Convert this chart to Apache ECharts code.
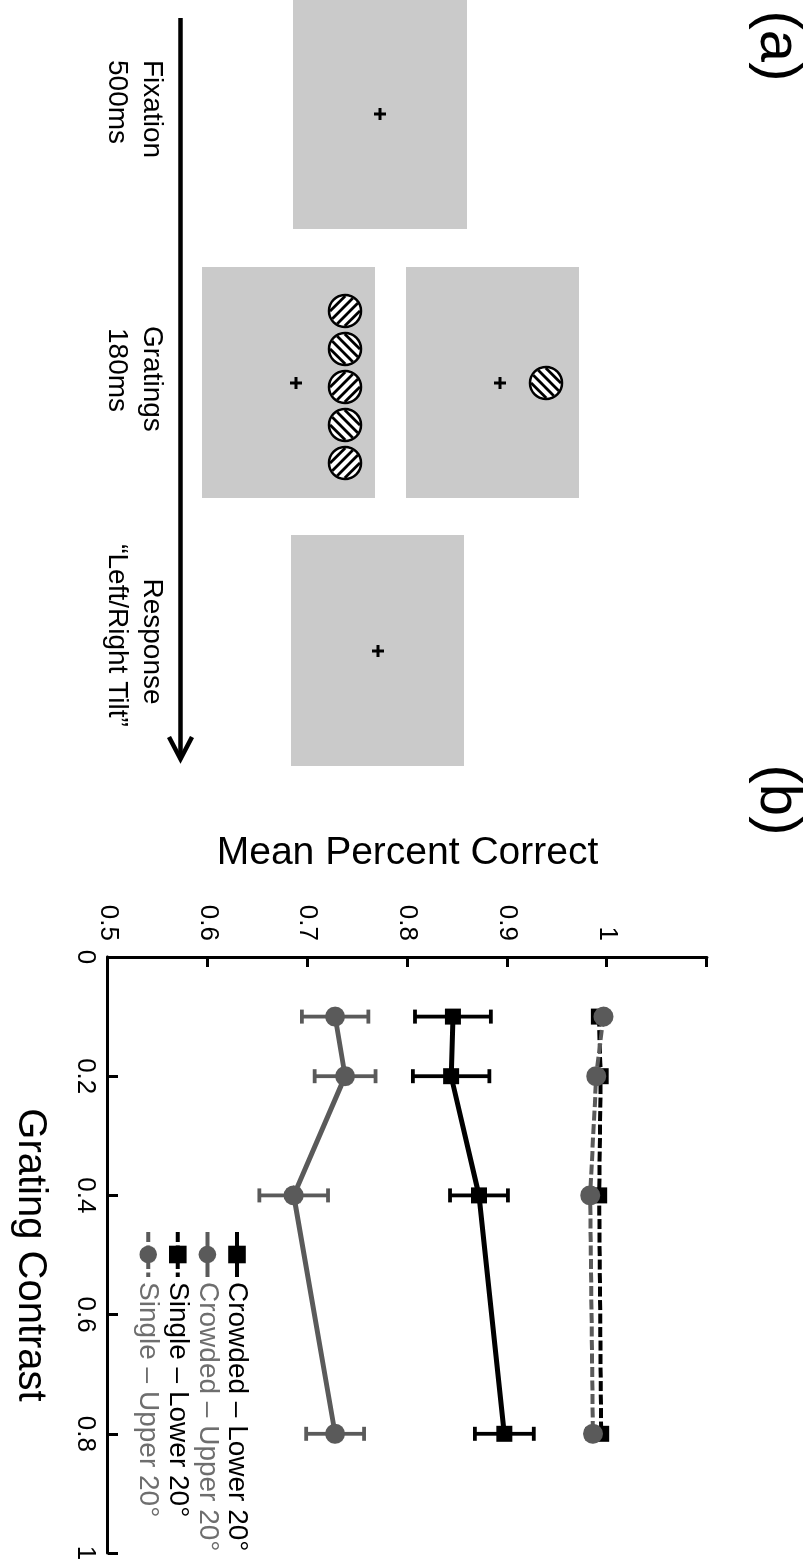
<!DOCTYPE html>
<html>
<head>
<meta charset="utf-8">
<script src="https://cdn.jsdelivr.net/npm/echarts@6/dist/echarts.min.js"></script>
<style>
  html, body { margin: 0; padding: 0; background: #fff; overflow: hidden; }
  #stage { position: absolute; left: 0; top: 0; width: 809px; height: 1564px; overflow: hidden; background: #fff; }
  /* the figure is laid out landscape and turned a quarter clockwise */
  #fig { position: absolute; left: 0; top: 0; width: 1564px; height: 809px;
         transform-origin: 0 0; transform: translate(809px, 0) rotate(90deg); }
</style>
</head>
<body>
<div id="stage"><div id="fig"></div></div>
<script>
// ---- data -------------------------------------------------------------
const contrast = [0.1, 0.2, 0.4, 0.8];

const crowdedLower    = [0.8455, 0.8437, 0.8716, 0.8970];
const crowdedLowerErr = [0.0380, 0.0383, 0.0290, 0.0295];
const crowdedUpper    = [0.7275, 0.7375, 0.6860, 0.7275];
const crowdedUpperErr = [0.0333, 0.0305, 0.0344, 0.0290];
const singleLower     = [0.9917, 0.9935, 0.9920, 0.9940];
const singleUpper     = [0.9963, 0.9890, 0.9830, 0.9857];

const seriesNames = ['Crowded – Lower 20°', 'Crowded – Upper 20°', 'Single – Lower 20°', 'Single – Upper 20°'];
const contrastTickLabels = ['0', '0.2', '0.4', '0.6', '0.8', '1'];
const percentTickLabels  = ['0.5', '0.6', '0.7', '0.8', '0.9', '1', ''];

// ---- styling ----------------------------------------------------------
const FONT = '"Liberation Sans", Arial, Helvetica, sans-serif';
const BLACK = '#000000';
const GREY = '#5a5a5a';
const GREY_TEXT = '#6e6e6e';
const BOX = '#cacaca';

// ---- trial schematic (panel a) ----------------------------------------
function box(x, y, w, h) {
  return { type: 'rect', silent: true, shape: { x, y, width: w, height: h }, style: { fill: BOX } };
}
function cross(cx, cy) {
  const a = 6;
  const st = { stroke: BLACK, lineWidth: 3 };
  return [
    { type: 'line', silent: true, shape: { x1: cx - a, y1: cy, x2: cx + a, y2: cy }, style: st },
    { type: 'line', silent: true, shape: { x1: cx, y1: cy - a, x2: cx, y2: cy + a }, style: st }
  ];
}
// striped disc; dir = 1 for "/" stripes, -1 for "\" stripes
function grating(cx, cy, dir) {
  const r = 16;
  const ux = Math.SQRT1_2, uy = -dir * Math.SQRT1_2;
  const nx = -uy, ny = ux;
  const ri = r - 1;
  const els = [{ type: 'circle', silent: true, shape: { cx, cy, r }, style: { fill: '#fff' } }];
  [-10.5, -3.5, 3.5, 10.5].forEach(d => {
    const h = Math.sqrt(Math.max(ri * ri - d * d, 0));
    els.push({ type: 'line', silent: true,
      shape: { x1: cx + nx * d - ux * h, y1: cy + ny * d - uy * h, x2: cx + nx * d + ux * h, y2: cy + ny * d + uy * h },
      style: { stroke: BLACK, lineWidth: 2.8 } });
  });
  els.push({ type: 'circle', silent: true, shape: { cx, cy, r }, style: { fill: null, stroke: BLACK, lineWidth: 2.5 } });
  return els;
}
function label(text, x, y, size, align) {
  return { type: 'text', silent: true, x, y,
    style: { text, font: size + 'px ' + FONT, fill: BLACK,
             textAlign: align, align: align, textVerticalAlign: 'middle', verticalAlign: 'middle' } };
}

const schematic = [].concat(
  box(0, 342, 229, 174),
  box(267, 434, 231, 173),
  box(267, 230, 231, 173),
  box(535, 345, 231, 173),
  cross(114, 429),
  cross(383, 513),
  cross(383, 309),
  cross(651, 431),
  grating(311, 464, -1), grating(349, 464, 1), grating(387, 464, -1), grating(425, 464, 1), grating(463, 464, -1),
  grating(383, 263, 1),
  [
    { type: 'line', silent: true, shape: { x1: 18, y1: 628.5, x2: 757, y2: 628.5 }, style: { stroke: BLACK, lineWidth: 4.5 } },
    { type: 'polyline', silent: true, shape: { points: [[737, 617], [759, 628.5], [737, 640]] },
      style: { stroke: BLACK, lineWidth: 4.5, fill: null } },
    label('Fixation', 60, 657.5, 28, 'left'),
    label('500ms', 60, 692.5, 28, 'left'),
    label('Gratings', 326, 657.5, 28, 'left'),
    label('180ms', 328, 692.5, 28, 'left'),
    label('Response', 641.5, 657.5, 28, 'center'),
    label('\u201CLeft/Right Tilt\u201D', 635.5, 692.5, 28, 'center'),
    label('(a)', 46, 32, 58, 'center'),
    label('(b)', 800, 32, 58, 'center')
  ]
);

// ---- chart (panel b) ---------------------------------------------------
function errorBars(values, errs, color) {
  return {
    type: 'custom',
    silent: true,
    z: 1,
    encode: { x: 0, y: [1, 2] },
    data: contrast.map((c, i) => [c, values[i] - errs[i], values[i] + errs[i]]),
    renderItem(params, api) {
      const lo = api.coord([api.value(0), api.value(1)]);
      const hi = api.coord([api.value(0), api.value(2)]);
      const cap = 7;
      const st = { stroke: color, lineWidth: 3.8 };
      return { type: 'group', children: [
        { type: 'line', shape: { x1: lo[0], y1: lo[1], x2: hi[0], y2: hi[1] }, style: st },
        { type: 'line', shape: { x1: lo[0] - cap, y1: lo[1], x2: lo[0] + cap, y2: lo[1] }, style: st },
        { type: 'line', shape: { x1: hi[0] - cap, y1: hi[1], x2: hi[0] + cap, y2: hi[1] }, style: st }
      ] };
    }
  };
}
function lineSeries(name, values, color, symbol, dashed) {
  return {
    type: 'line',
    name,
    z: 2,
    data: contrast.map((c, i) => [c, values[i]]),
    symbol,
    symbolSize: symbol === 'rect' ? 16 : 20,
    itemStyle: { color },
    lineStyle: { color, width: dashed ? 4 : 5, type: dashed ? [10, 3.5] : 'solid' },
    emphasis: { disabled: true }
  };
}

const axisCommon = {
  axisLine: { show: true, onZero: false, lineStyle: { color: BLACK, width: 3 } },
  axisTick: { show: true, inside: true, length: 10, lineStyle: { color: BLACK, width: 3 } },
  splitLine: { show: false },
  nameMoveOverlap: false
};

const chart = echarts.init(document.getElementById('fig'), null, { renderer: 'canvas', width: 1564, height: 809 });
chart.setOption({
  animation: false,
  backgroundColor: '#ffffff',
  textStyle: { fontFamily: FONT },
  grid: { left: 957, top: 102, width: 596, height: 599, outerBoundsMode: 'none', containLabel: false },
  xAxis: Object.assign({}, axisCommon, {
    type: 'value', min: 0, max: 1, interval: 0.2,
    axisLabel: { color: BLACK, fontSize: 26, fontFamily: FONT, margin: 10, showMinLabel: true, showMaxLabel: true,
                 formatter: (v, i) => contrastTickLabels[i] ?? '' },
    name: 'Grating Contrast', nameLocation: 'middle', nameGap: 58,
    nameTextStyle: { color: BLACK, fontSize: 40, fontFamily: FONT }
  }),
  yAxis: Object.assign({}, axisCommon, {
    type: 'value', min: 0.5, max: 1.1, interval: 0.1,
    axisLabel: { color: BLACK, fontSize: 26, fontFamily: FONT, margin: 16, showMinLabel: true, showMaxLabel: true,
                 formatter: (v, i) => percentTickLabels[i] ?? '' },
    name: 'Mean Percent Correct', nameLocation: 'middle', nameRotate: 90, nameGap: 84,
    nameTextStyle: { color: BLACK, fontSize: 39, fontFamily: FONT }
  }),
  legend: {
    orient: 'vertical', left: 1230, top: 558, padding: 0,
    itemWidth: 45, itemHeight: 22, itemGap: 1.6,
    selectedMode: false,
    lineStyle: { width: 4 },
    textStyle: { fontSize: 28, fontFamily: FONT },
    data: [
      { name: seriesNames[0], textStyle: { color: BLACK } },
      { name: seriesNames[1], textStyle: { color: GREY_TEXT } },
      { name: seriesNames[2], textStyle: { color: BLACK } },
      { name: seriesNames[3], textStyle: { color: GREY_TEXT } }
    ]
  },
  graphic: { elements: schematic },
  series: [
    errorBars(crowdedLower, crowdedLowerErr, BLACK),
    errorBars(crowdedUpper, crowdedUpperErr, GREY),
    lineSeries(seriesNames[0], crowdedLower, BLACK, 'rect', false),
    lineSeries(seriesNames[1], crowdedUpper, GREY, 'circle', false),
    lineSeries(seriesNames[2], singleLower, BLACK, 'rect', true),
    lineSeries(seriesNames[3], singleUpper, GREY, 'circle', true)
  ]
});
</script>
</body>
</html>
